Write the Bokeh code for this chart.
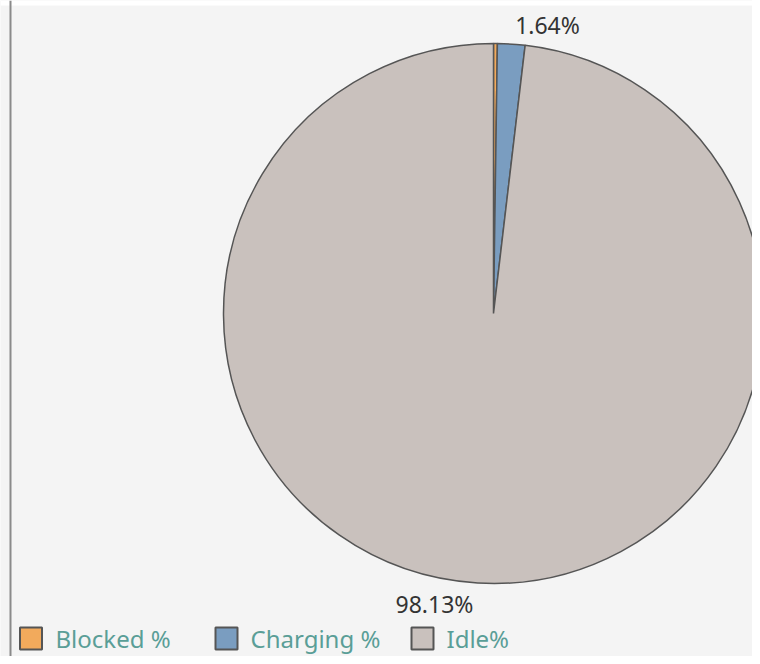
import math
from bokeh.plotting import figure
from bokeh.models import Range1d, ColumnDataSource
from bokeh.core.properties import value
from bokeh.embed import file_html
from bokeh.resources import INLINE

# ---- data ----
categories = ["Blocked %", "Charging %", "Idle%"]
shares = [0.23, 1.64, 98.13]
colors = ["#f2aa5c", "#7a9dc0", "#c9c1bd"]
shown_labels = ["", "1.64%", "98.13%"]

W, H = 752, 656
p = figure(width=W, height=H, output_backend="svg", toolbar_location=None,
           x_range=Range1d(0, W), y_range=Range1d(0, H), min_border=0)
p.axis.visible = False
p.grid.visible = False
p.outline_line_color = None
p.background_fill_color = "#f4f4f4"
p.border_fill_color = "#f4f4f4"

# white strip at top and left border line
p.quad(left=0, right=W, bottom=H - 5, top=H, fill_color="white", line_color=None)
p.segment(x0=[10], y0=[0], x1=[10], y1=[H], line_color="#8a8a8a", line_width=2)

cx, cy, r = 493, 343, 270
total = sum(shares)
starts, ends = [], []
acc = 0.0
for s in shares:
    starts.append(math.pi / 2 - acc / total * 2 * math.pi)
    acc += s
    ends.append(math.pi / 2 - acc / total * 2 * math.pi)

src = ColumnDataSource(dict(cat=categories, start=starts, end=ends, color=colors))
p.wedge(x=cx, y=cy, radius=r, start_angle="start", end_angle="end", direction="clock",
        fill_color="color", line_color="#555555", line_width=1.5, source=src)

# slice labels
lab_x = [cx + 54, cx - 59]
lab_y = [cy + 289, cy - 290]
p.text(x=lab_x, y=lab_y, text=shown_labels[1:], text_font=value("Noto Sans"),
       text_font_size="23px", text_color="#333333", text_align="center",
       text_baseline="middle")

# legend
leg_sq_x = [30.5, 226, 422]
leg_tx_x = [55, 250, 446]
leg_y = 18
p.rect(x=leg_sq_x, y=leg_y, width=22, height=22, fill_color=colors,
       line_color="#555555", line_width=2)
p.text(x=leg_tx_x, y=leg_y, text=categories, text_font=value("Noto Sans"),
       text_font_size="24px", text_color="#5a9e97", text_align="left",
       text_baseline="middle")

open("out.html", "w").write(file_html(p, INLINE))
